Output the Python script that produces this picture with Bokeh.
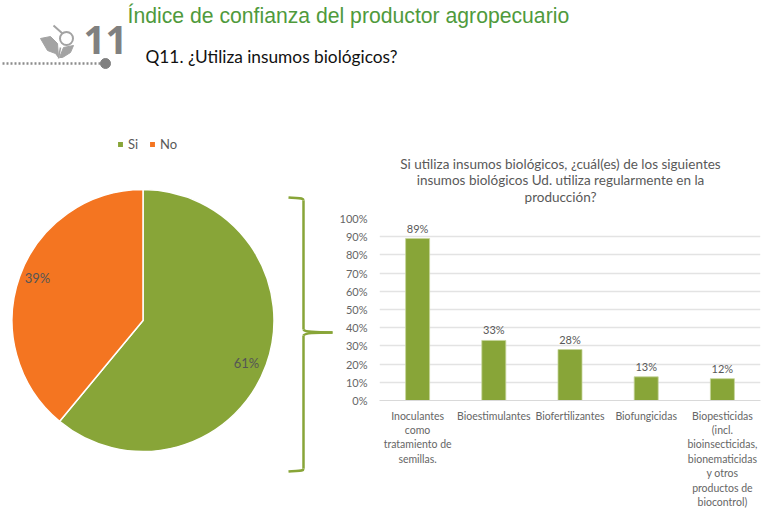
import numpy as np
from bokeh.plotting import figure
from bokeh.models import Range1d, FixedTicker, PrintfTickFormatter, Legend, LegendItem, ColumnDataSource
from bokeh.core.properties import value
from bokeh.embed import file_html
from bokeh.resources import INLINE

TITLE = "Índice de confianza del productor agropecuario"
QUESTION = "Q11. ¿Utiliza insumos biológicos?"
NUMBER = "11"
CHART_TITLE = ["Si utiliza insumos biológicos, ¿cuál(es) de los siguientes",
               "insumos biológicos Ud. utiliza regularmente en la",
               "producción?"]
pie_labels = ["Si", "No"]
pie_values = [61, 39]
bar_categories = ["Inoculantes\ncomo\ntratamiento de\nsemillas.",
                  "Bioestimulantes",
                  "Biofertilizantes",
                  "Biofungicidas",
                  "Biopesticidas\n(incl.\nbioinsecticidas,\nbionematicidas\ny otros\nproductos de\nbiocontrol)"]
bar_values = [89, 33, 28, 13, 12]
y_ticks = [0, 10, 20, 30, 40, 50, 60, 70, 80, 90, 100]

GREEN = "#88a538"
ORANGE = "#f47521"
TEXT = "#595959"
ICON = "#a3a3a3"
LFONT = value("Lato")


def place(fig, left, top):
    fig.styles = {"position": "absolute", "left": f"{left}px", "top": f"{top}px"}
    return fig


# ---- page background: header and decoration, in page pixels
bg = figure(width=762, height=516, x_range=Range1d(0, 762), y_range=Range1d(516, 0),
            toolbar_location=None, output_backend="svg", min_border=0)
bg.axis.visible = False
bg.grid.visible = False
bg.outline_line_color = None
place(bg, 0, 0)

bg.text([127], [15], text=[TITLE], text_font=value("Liberation Sans"), text_font_size="21.2px",
        text_color="#4f9a3c", text_baseline="middle", text_align="left")
bg.text([145], [55.5], text=[QUESTION], text_font=LFONT, text_font_size="17.3px",
        text_color="#111111", text_baseline="middle", text_align="left")
bg.text([83], [39], text=[NUMBER], text_font=value("Open Sans"), text_font_size="38.5px",
        text_font_style="bold", text_color="#808080", text_baseline="middle", text_align="left")

# dotted rule and knob
bg.line([2, 100], [63, 63], line_color="#8c8c8c", line_width=2.5, line_dash="2 2")
bg.scatter([105], [63], size=10, color="#808080")

# leaf + magnifier icon
bg.patch([40, 50, 57, 58, 55, 47], [38, 36, 43, 57, 53, 50], color=ICON)
bg.patch([59, 63, 73, 70, 62], [57, 47, 45, 52, 57], color=ICON)
bg.line([53, 62], [25, 33], line_color=ICON, line_width=2)
bg.scatter([66], [38], size=13, marker="circle", fill_color="white",
           line_color=ICON, line_width=2)
bg.line([60, 58], [47, 58], line_color=ICON, line_width=1.5)

# brace
BW = 2.5
bg.bezier(x0=[288], y0=[197], x1=[303], y1=[200], cx0=[298], cy0=[198], cx1=[303], cy1=[197],
          line_color=GREEN, line_width=BW)
bg.line([303, 303], [200, 329], line_color=GREEN, line_width=BW)
bg.bezier(x0=[303], y0=[329], x1=[332], y1=[332], cx0=[304], cy0=[332], cx1=[320], cy1=[332],
          line_color=GREEN, line_width=BW)
bg.bezier(x0=[303], y0=[335], x1=[332], y1=[332], cx0=[304], cy0=[332], cx1=[320], cy1=[332],
          line_color=GREEN, line_width=BW)
bg.line([303, 303], [335, 468], line_color=GREEN, line_width=BW)
bg.bezier(x0=[303], y0=[468], x1=[288], y1=[471], cx0=[303], cy0=[471], cx1=[298], cy1=[470],
          line_color=GREEN, line_width=BW)

# chart title
bg.text([560, 560, 560], [163, 179.5, 196.5], text=CHART_TITLE, text_font=LFONT,
        text_font_size="13.5px", text_color=TEXT, text_align="center", text_baseline="middle")

# ---- pie
pie = figure(width=290, height=345, x_range=Range1d(-142.5, 147.5), y_range=Range1d(-155, 190),
             toolbar_location=None, output_backend="svg", min_border=0)
pie.axis.visible = False
pie.grid.visible = False
pie.outline_line_color = None
pie.background_fill_alpha = 0
pie.border_fill_alpha = 0
place(pie, 0, 130)

R = 131
fr = np.array(pie_values) / sum(pie_values)
ends = np.cumsum(fr)
starts = ends - fr
a0 = np.pi / 2 - 2 * np.pi * starts
a1 = np.pi / 2 - 2 * np.pi * ends
mid = (a0 + a1) / 2
renderers = []
for i, col in enumerate([GREEN, ORANGE]):
    renderers.append(pie.wedge(x=[0], y=[0], radius=R, start_angle=a0[i], end_angle=a1[i],
                               direction="clock", fill_color=col, line_color="white", line_width=1.5))
pie_src = ColumnDataSource(dict(x=0.84 * R * np.cos(mid), y=0.84 * R * np.sin(mid),
                                t=[f"{v}%" for v in pie_values], dy=[5, -5], dx=[0, -2]))
pie.text(x="x", y="y", text="t", x_offset="dx", y_offset="dy", source=pie_src,
         text_font=LFONT, text_font_size="13px", text_color="#555555",
         text_align="center", text_baseline="middle")
legend = Legend(items=[LegendItem(label=l, renderers=[r]) for l, r in zip(pie_labels, renderers)],
                orientation="horizontal", location=(116, 323), background_fill_alpha=0,
                border_line_color=None, glyph_width=8, glyph_height=8, label_standoff=4,
                spacing=-3, margin=0, padding=0, label_text_font="Lato", label_text_font_size="13px",
                label_text_color=TEXT)
pie.add_layout(legend, "center")

# ---- bars
bars = figure(width=432, height=308, x_range=bar_categories, y_range=Range1d(0, 100),
              toolbar_location=None, output_backend="svg",
              min_border_left=49, min_border_right=2, min_border_top=10, min_border_bottom=116)
bars.frame_width = 381
bars.frame_height = 182
place(bars, 330, 208)
bars.background_fill_alpha = 0
bars.border_fill_alpha = 0
bars.outline_line_color = None

src = ColumnDataSource(dict(x=bar_categories, y=bar_values, t=[f"{v}%" for v in bar_values]))
bars.vbar(x="x", top="y", width=0.315, source=src, fill_color=GREEN, line_color="#c5d49a", line_width=0.8)
bars.text(x="x", y="y", text="t", source=src, text_font=LFONT, text_font_size="11px", text_color=TEXT,
          text_align="center", text_baseline="bottom", y_offset=-4)

bars.yaxis.ticker = FixedTicker(ticks=y_ticks)
bars.yaxis.formatter = PrintfTickFormatter(format="%d%%")
bars.yaxis.axis_line_color = None
bars.yaxis.major_tick_line_color = None
bars.yaxis.minor_tick_line_color = None
bars.yaxis.major_label_text_font = "Lato"
bars.yaxis.major_label_text_font_size = "11px"
bars.yaxis.major_label_text_color = "#666666"
bars.yaxis.major_label_standoff = 6
bars.xaxis.axis_line_color = "#d9d9d9"
bars.xaxis.major_tick_line_color = None
bars.xaxis.minor_tick_line_color = None
bars.xaxis.major_label_text_font = "Lato"
bars.xaxis.major_label_text_font_size = "10.5px"
bars.xaxis.major_label_text_color = "#666666"
bars.xaxis.major_label_text_line_height = 1.2
bars.xaxis.major_label_standoff = 3
bars.xgrid.visible = False
bars.ygrid.grid_line_color = "#e3e3e3"
bars.ygrid.grid_line_width = 1.5
bars.ygrid.ticker = FixedTicker(ticks=y_ticks)

open("out.html", "w").write(file_html([bg, pie, bars], INLINE))
